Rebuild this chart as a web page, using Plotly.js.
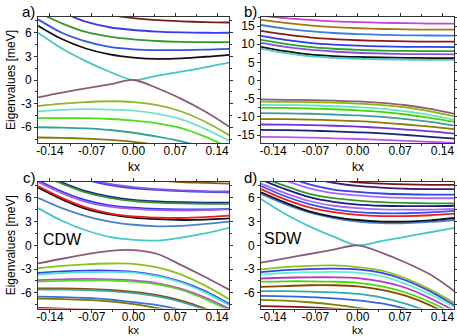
<!DOCTYPE html>
<html>
<head>
<meta charset="utf-8">
<script src="https://cdn.plot.ly/plotly-3.0.1.min.js"></script>
<style>
  html, body { margin: 0; padding: 0; background: #fff; }
  #chart { width: 457px; height: 336px; }
</style>
</head>
<body>
<div id="chart"></div>
<script>
// kx sample points shared by all four panels
const kx = [-0.16, -0.12, -0.08, -0.04, 0.0, 0.04, 0.08, 0.12, 0.16];

// tick labels
const xTickVals = [-0.14, -0.07, 0.0, 0.07, 0.14];
const xTickText = ['-0.14', '-0.07', '0.00', '0.07', '0.14'];
const yTicksSmall = [-6, -3, 0, 3, 6];
const yTicksLarge = [-15, -10, -5, 0, 5, 10, 15];

// panel a) eigenvalues [meV]
const bandsA = [
    [6.0, 4.0, 2.4, 1.05, 0.0, 0.55, 1.05, 1.6, 2.2],          // cyan
    [6.9, 5.2, 4.0, 3.25, 2.85, 2.68, 2.75, 2.95, 3.2],        // black
    [7.7, 6.0, 4.9, 4.2, 3.9, 3.8, 3.8, 3.85, 3.95],           // blue
    [8.6, 7.2, 6.1, 5.5, 5.15, 4.95, 4.85, 4.8, 4.8],          // green
    [9.8, 8.6, 7.4, 6.7, 6.35, 6.15, 6.05, 6.0, 6.0],          // blue
    [11.5, 10.3, 9.2, 8.3, 7.85, 7.6, 7.45, 7.35, 7.3],        // maroon
    [-2.2, -1.6, -1.05, -0.55, 0.0, -1.05, -2.4, -4.0, -5.9],  // mauve
    [-3.3, -3.0, -2.8, -2.7, -2.8, -3.2, -4.0, -5.3, -7.0],    // yellow green
    [-4.0, -3.8, -3.7, -3.75, -3.9, -4.3, -5.0, -6.2, -7.7],   // aqua
    [-4.85, -4.85, -4.85, -4.95, -5.15, -5.5, -6.1, -7.2, -8.6], // lime
    [-6.0, -6.05, -6.15, -6.35, -6.7, -7.2, -7.8, -8.6, -9.8], // teal
    [-7.3, -7.35, -7.45, -7.6, -7.85, -8.3, -9.2, -10.3, -11.5] // olive
];
const colorsA = ['#45c6c6', '#111111', '#2f55e8', '#2f9a2f', '#3a3aee', '#7d1a1a',
                 '#8a5a7c', '#8cb82a', '#6fe2cc', '#4fdc22', '#2fa39a', '#7d7d10'];

// panel b) eigenvalues [meV]
const bandsB = [
    [17.9, 17.2, 16.7, 16.3, 16.1, 15.9, 15.8, 15.7, 15.7],       // magenta
    [16.7, 15.9, 15.2, 14.7, 14.4, 14.2, 14.1, 14.0, 14.0],       // olive brown
    [15.3, 14.3, 13.6, 13.1, 12.8, 12.6, 12.45, 12.4, 12.35],     // steel blue
    [13.7, 12.7, 11.9, 11.4, 11.1, 10.9, 10.8, 10.7, 10.7],       // maroon
    [12.3, 11.2, 10.4, 9.9, 9.6, 9.4, 9.3, 9.25, 9.2],            // blue
    [11.2, 10.1, 9.25, 8.75, 8.45, 8.25, 8.15, 8.1, 8.1],         // green
    [10.4, 9.3, 8.5, 8.0, 7.65, 7.45, 7.3, 7.25, 7.2],            // purple
    [9.3, 8.1, 7.2, 6.75, 6.5, 6.35, 6.25, 6.2, 6.2],             // black
    [8.8, 7.6, 6.7, 6.25, 6.0, 5.85, 5.75, 5.7, 5.7],             // cyan
    [-5.2, -5.3, -5.4, -5.55, -5.75, -6.15, -6.8, -7.8, -9.2],    // mauve
    [-5.8, -5.85, -5.95, -6.1, -6.35, -6.75, -7.4, -8.5, -9.9],   // yellow green
    [-6.7, -6.75, -6.85, -7.05, -7.3, -7.75, -8.5, -9.5, -10.8],  // aqua
    [-7.5, -7.55, -7.7, -7.9, -8.2, -8.65, -9.35, -10.3, -11.4],  // lime
    [-9.0, -9.05, -9.15, -9.35, -9.6, -10.0, -10.6, -11.4, -12.4], // teal
    [-10.6, -10.65, -10.75, -10.95, -11.2, -11.6, -12.1, -12.7, -13.4], // olive
    [-12.1, -12.15, -12.3, -12.45, -12.7, -13.05, -13.5, -14.0, -14.6], // purple
    [-13.6, -13.65, -13.8, -14.0, -14.25, -14.55, -15.0, -15.5, -16.0], // navy
    [-15.5, -15.6, -15.7, -15.9, -16.1, -16.35, -16.6, -16.9, -17.2]    // violet
];
const colorsB = ['#cc40d8', '#a07a10', '#3f7fd8', '#8b1a1a', '#2a3fe8', '#2f9f2f', '#8a4fe0', '#111111', '#4cc9c9',
                 '#8c5d80', '#8db600', '#5fe6c4', '#4ad400', '#3a9d9d', '#8a7d00', '#7030e0', '#1a2470', '#c050f0'];

// panel c) CDW eigenvalues [meV]
const bandsC = [
    [4.7, 3.1, 1.9, 1.05, 0.68, 0.6, 0.98, 1.5, 2.2],          // cyan
    [6.0, 4.7, 3.7, 3.0, 2.6, 2.4, 2.45, 2.7, 3.0],            // steel blue
    [7.3, 5.8, 4.6, 3.9, 3.5, 3.3, 3.2, 3.25, 3.4],            // black
    [7.5, 6.0, 4.8, 4.05, 3.65, 3.5, 3.45, 3.55, 3.75],        // red
    [8.2, 6.8, 5.7, 5.05, 4.75, 4.6, 4.55, 4.55, 4.6],         // blue
    [8.0, 6.6, 5.5, 4.9, 4.6, 4.45, 4.4, 4.45, 4.55],          // violet
    [9.1, 7.95, 6.85, 6.15, 5.75, 5.55, 5.45, 5.4, 5.4],       // navy
    [9.0, 7.8, 6.7, 6.0, 5.6, 5.4, 5.3, 5.25, 5.25],           // green
    [10.5, 9.3, 8.3, 7.6, 7.2, 7.0, 6.85, 6.75, 6.7],          // blue
    [10.7, 9.5, 8.45, 7.75, 7.35, 7.1, 6.95, 6.85, 6.8],       // violet
    [12.0, 10.8, 9.8, 9.0, 8.5, 8.2, 8.0, 7.9, 7.8],           // brown
    [-2.3, -1.7, -1.15, -0.7, -0.6, -1.1, -2.5, -4.0, -5.6],   // mauve
    [-2.9, -2.6, -2.4, -2.3, -2.35, -2.8, -3.7, -5.1, -6.8],   // yellow green
    [-3.5, -3.3, -3.2, -3.2, -3.35, -3.8, -4.6, -5.8, -7.4],   // blue
    [-3.7, -3.5, -3.4, -3.35, -3.45, -3.9, -4.7, -5.95, -7.55], // aqua
    [-4.4, -4.3, -4.25, -4.3, -4.45, -4.8, -5.5, -6.6, -8.0],  // magenta
    [-4.6, -4.5, -4.45, -4.45, -4.6, -4.95, -5.65, -6.8, -8.2], // green
    [-5.45, -5.45, -5.5, -5.65, -5.9, -6.3, -7.0, -8.0, -9.3], // brown
    [-5.6, -5.6, -5.65, -5.8, -6.05, -6.45, -7.15, -8.15, -9.5], // teal
    [-6.5, -6.55, -6.65, -6.85, -7.2, -7.55, -8.15, -9.0, -10.2], // blue
    [-6.75, -6.8, -6.9, -7.1, -7.45, -7.95, -8.6, -9.5, -10.6], // olive
    [-7.9, -8.0, -8.1, -8.3, -8.6, -9.0, -9.6, -10.4, -11.4]   // red
];
const colorsC = ['#45c8c8', '#4a80d0', '#111111', '#ee1c1c', '#3a3ae8', '#a060f0', '#1c1c88', '#2e9a2e', '#4040e0', '#8a50e8', '#8b5a10',
                 '#8c5a7c', '#8cc21a', '#3344ee', '#55e0d0', '#c040d0', '#55dd22', '#8b4a00', '#3aa6a6', '#3a70e0', '#7a7a00', '#c01010'];

// panel d) SDW eigenvalues [meV]
const bandsD = [
    [5.85, 3.95, 2.4, 1.1, 0.0, 0.55, 1.1, 1.65, 2.2],         // cyan
    [6.5, 5.2, 4.15, 3.45, 3.0, 2.8, 2.8, 2.95, 3.2],          // steel blue
    [6.7, 5.4, 4.3, 3.6, 3.2, 3.0, 3.0, 3.15, 3.45],           // black
    [7.1, 5.8, 4.8, 4.2, 3.85, 3.7, 3.7, 3.8, 4.0],            // red
    [7.5, 6.2, 5.2, 4.55, 4.2, 4.05, 4.05, 4.15, 4.35],        // blue
    [7.8, 6.6, 5.6, 5.0, 4.7, 4.55, 4.5, 4.5, 4.6],            // violet
    [8.3, 7.1, 6.1, 5.5, 5.15, 5.0, 4.95, 4.95, 5.0],          // navy
    [8.6, 7.5, 6.5, 5.95, 5.65, 5.45, 5.35, 5.3, 5.3],         // green
    [9.4, 8.2, 7.2, 6.6, 6.3, 6.1, 6.0, 5.95, 5.95],           // violet
    [9.9, 8.7, 7.7, 7.05, 6.75, 6.55, 6.45, 6.4, 6.4],         // blue
    [10.8, 9.6, 8.6, 7.9, 7.5, 7.3, 7.15, 7.1, 7.1],           // indigo
    [11.5, 10.3, 9.3, 8.4, 7.95, 7.8, 7.7, 7.65, 7.65],        // maroon
    [-2.2, -1.65, -1.1, -0.55, 0.0, -0.95, -2.2, -3.7, -5.8],  // mauve
    [-3.05, -2.75, -2.6, -2.55, -2.75, -3.2, -4.2, -5.6, -7.3], // yellow green
    [-3.4, -3.15, -3.0, -2.95, -3.05, -3.5, -4.45, -5.85, -7.6], // blue
    [-3.7, -3.5, -3.4, -3.35, -3.45, -3.9, -4.9, -6.2, -7.8],  // aqua
    [-4.2, -4.1, -4.05, -4.05, -4.15, -4.6, -5.4, -6.7, -8.3], // magenta
    [-4.6, -4.55, -4.55, -4.6, -4.75, -5.2, -6.0, -7.2, -8.7], // green
    [-5.25, -5.15, -5.05, -5.05, -5.2, -5.65, -6.4, -7.6, -9.1], // brown
    [-5.8, -5.8, -5.85, -5.95, -6.15, -6.6, -7.4, -8.5, -10.0], // teal
    [-6.4, -6.45, -6.55, -6.7, -6.95, -7.35, -8.05, -9.0, -10.5], // blue
    [-6.9, -7.0, -7.2, -7.5, -7.9, -8.4, -9.1, -10.0, -11.0],  // olive
    [-7.7, -7.75, -7.85, -8.0, -8.2, -8.5, -9.0, -9.8, -10.8]  // dark red
];
const colorsD = ['#45c8c8', '#4a80d0', '#111111', '#ee1c1c', '#3355ee', '#a866ff', '#1c1c80', '#339922', '#a866ff', '#3344ee', '#3a1f80', '#7d1414',
                 '#8c5a7c', '#8cc21a', '#3344ee', '#66f0d0', '#bb33cc', '#44dd00', '#8b4500', '#33aaaa', '#3366dd', '#778800', '#881111'];

const fontFamily = 'Liberation Sans, Arial, sans-serif';

/**
 * Build line traces for one panel
 */
function makeTraces(bands, colors, xa, ya) {
    return bands.map((vals, i) => ({
        x: kx,
        y: vals,
        xaxis: xa,
        yaxis: ya,
        type: 'scatter',
        mode: 'lines',
        line: { color: colors[i], width: 1.8, shape: 'spline', smoothing: 0.9 },
        hoverinfo: 'skip'
    }));
}

const traces = [].concat(
    makeTraces(bandsA, colorsA, 'x', 'y'),
    makeTraces(bandsB, colorsB, 'x2', 'y2'),
    makeTraces(bandsC, colorsC, 'x3', 'y3'),
    makeTraces(bandsD, colorsD, 'x4', 'y4')
);

// shared axis look
function xAxis(domain, anchor) {
    return {
        domain: domain,
        anchor: anchor,
        range: [-0.16, 0.16],
        tickmode: 'array',
        tickvals: xTickVals,
        ticktext: xTickText,
        ticks: 'outside', ticklen: 3, tickwidth: 1, tickcolor: '#333',
        ticklabelstandoff: -6,
        minor: { tick0: 0, dtick: 0.035, ticks: 'outside', ticklen: 2, tickcolor: '#333' },
        showline: true, linecolor: '#333', linewidth: 1, mirror: 'ticks',
        showgrid: false, zeroline: false,
        tickfont: { family: fontFamily, size: 12, color: '#000' }
    };
}

function yAxis(domain, anchor, range, ticks, minorStep, title) {
    return {
        domain: domain,
        anchor: anchor,
        range: range,
        tickmode: 'array',
        tickvals: ticks,
        ticktext: ticks.map(String),
        ticks: 'outside', ticklen: 3, tickwidth: 1, tickcolor: '#333',
        minor: { tick0: 0, dtick: minorStep, ticks: 'outside', ticklen: 2, tickcolor: '#333' },
        showline: true, linecolor: '#333', linewidth: 1, mirror: 'ticks',
        showgrid: false, zeroline: false,
        tickfont: { family: fontFamily, size: 12, color: '#000' },
        title: { text: title, font: { family: fontFamily, size: 12, color: '#000' }, standoff: 2 }
    };
}

const leftCol = [0.0832, 0.5011];
const rightCol = [0.5711, 0.9945];
const topRow = [0.5744, 0.9494];
const bottomRow = [0.0816, 0.4583];

function label(text, x, y, size, anchor, vAnchor, boxHeight) {
    const ann = {
        text: text, xref: 'paper', yref: 'paper', x: x, y: y,
        xanchor: anchor || 'left', yanchor: vAnchor || 'middle', showarrow: false,
        font: { family: fontFamily, size: size, color: '#000' }
    };
    if (boxHeight) {
        ann.height = boxHeight;
        ann.borderpad = 0;
    }
    return ann;
}

const layout = {
    width: 457,
    height: 336,
    margin: { l: 0, r: 0, t: 0, b: 0 },
    showlegend: false,
    paper_bgcolor: '#fff',
    plot_bgcolor: '#fff',
    font: { family: fontFamily, size: 12, color: '#000' },
    xaxis: xAxis(leftCol, 'y'),
    yaxis: yAxis(topRow, 'x', [-8, 8], yTicksSmall, 1.5, 'Eigenvalues [meV]'),
    xaxis2: xAxis(rightCol, 'y2'),
    yaxis2: yAxis(topRow, 'x2', [-17.2, 17.5], yTicksLarge, 2.5, ''),
    xaxis3: xAxis(leftCol, 'y3'),
    yaxis3: yAxis(bottomRow, 'x3', [-8, 8], yTicksSmall, 1.5, 'Eigenvalues [meV]'),
    xaxis4: xAxis(rightCol, 'y4'),
    yaxis4: yAxis(bottomRow, 'x4', [-8, 8], yTicksSmall, 1.5, ''),
    annotations: [
        label('a)', 0.044, 0.967, 15),
        label('b)', 0.530, 0.967, 15),
        label('c)', 0.046, 0.472, 15),
        label('d)', 0.530, 0.473, 15),
        label('CDW', 0.090, 0.286, 16),
        label('SDW', 0.573, 0.290, 16),
        // x axis titles
        label('kx', 0.2932, 0.504, 12, 'center', 'middle', 12),
        label('kx', 0.7834, 0.504, 12, 'center', 'middle', 12),
        label('kx', 0.2932, 0.0, 11, 'center', 'bottom', 11),
        label('kx', 0.7834, 0.0, 11, 'center', 'bottom', 11)
    ]
};

Plotly.newPlot('chart', traces, layout, { displayModeBar: false, staticPlot: true });
</script>
</body>
</html>
